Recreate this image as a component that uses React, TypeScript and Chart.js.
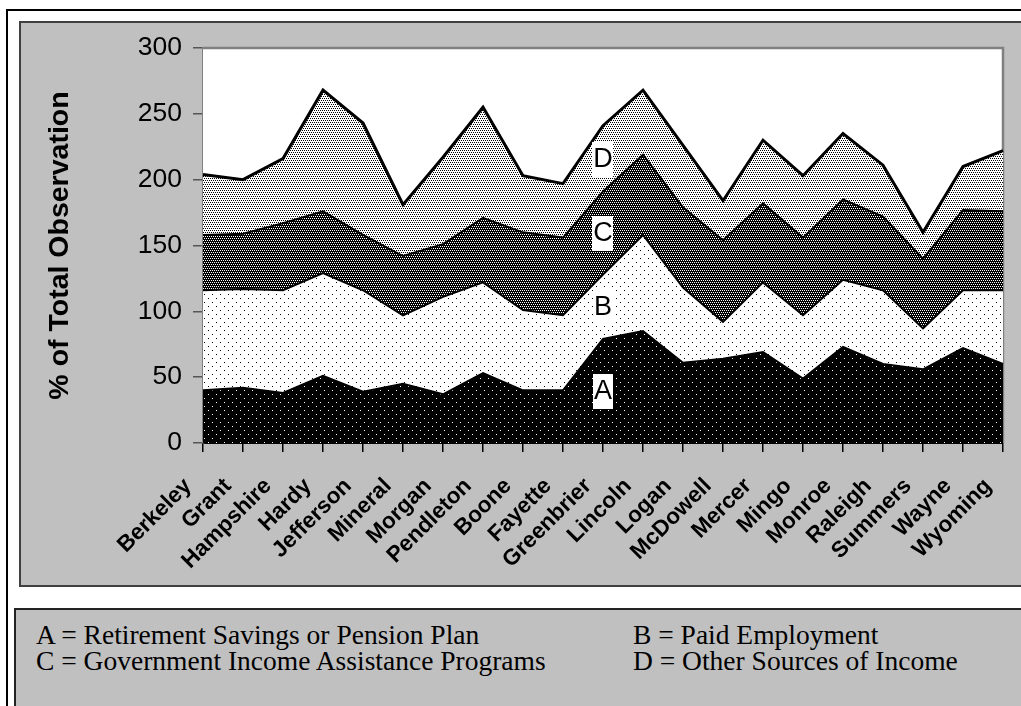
import React, { useEffect, useRef } from "react";
import { Chart, registerables } from "chart.js";

Chart.register(...registerables);

// West Virginia counties along the category axis
const counties = [
  "Berkeley", "Grant", "Hampshire", "Hardy", "Jefferson", "Mineral", "Morgan",
  "Pendleton", "Boone", "Fayette", "Greenbrier", "Lincoln", "Logan", "McDowell",
  "Mercer", "Mingo", "Monroe", "Raleigh", "Summers", "Wayne", "Wyoming",
];

// Stacked shares (% of total observation) per income source
const retirement = [40, 42, 38, 51, 39, 45, 37, 53, 40, 40, 79, 85, 61, 64, 69, 49, 73, 60, 56, 72, 60];
const employment = [76, 75, 78, 78, 77, 52, 74, 69, 61, 57, 49, 73, 57, 28, 53, 48, 51, 56, 31, 44, 56];
const assistance = [42, 42, 51, 47, 42, 45, 40, 49, 59, 59, 63, 61, 61, 62, 60, 59, 61, 56, 53, 61, 60];
const otherIncome = [46, 41, 49, 92, 85, 39, 66, 84, 43, 41, 50, 49, 47, 30, 48, 47, 50, 39, 20, 33, 46];

const yTickValues = [0, 50, 100, 150, 200, 250, 300];
const bandLetters = ["A", "B", "C", "D"];
const letterCounty = "Greenbrier";
const yTitle = "% of Total Observation";

const legendRows = [
  ["A = Retirement Savings or Pension Plan", "B = Paid Employment"],
  ["C = Government Income Assistance Programs", "D = Other Sources of Income"],
];

const SANS = "'Liberation Sans', Arial, sans-serif";
const SERIF = "'Liberation Serif', 'Times New Roman', serif";

function makePattern(
  ctx: CanvasRenderingContext2D,
  bg: string,
  fg: string,
  size: number,
  dots: [number, number][]
): CanvasPattern {
  const c = document.createElement("canvas");
  c.width = size;
  c.height = size;
  const g = c.getContext("2d")!;
  g.fillStyle = bg;
  g.fillRect(0, 0, size, size);
  g.fillStyle = fg;
  dots.forEach(([x, y]) => g.fillRect(x, y, 1, 1));
  return ctx.createPattern(c, "repeat")!;
}

export default function App() {
  const canvasRef = useRef<HTMLCanvasElement>(null);

  useEffect(() => {
    const canvas = canvasRef.current!;
    const ctx = canvas.getContext("2d")!;

    const sparse: [number, number][] = [[0, 0], [4, 4]];
    const fine: [number, number][] = [[0, 0], [2, 0], [1, 2], [3, 2]];
    const fills = [
      makePattern(ctx, "#000", "#fff", 8, sparse),
      makePattern(ctx, "#fff", "#000", 8, sparse),
      makePattern(ctx, "#000", "#fff", 4, fine),
      makePattern(ctx, "#fff", "#000", 4, fine),
    ];
    const series = [retirement, employment, assistance, otherIncome];

    const plotFrame = {
      id: "plotFrame",
      beforeDatasetsDraw(chart: any) {
        const { ctx: c, chartArea: a } = chart;
        c.save();
        c.fillStyle = "#fff";
        c.fillRect(a.left, a.top, a.right - a.left, a.bottom - a.top);
        c.strokeStyle = "#808080";
        c.lineWidth = 2.5;
        c.beginPath();
        c.moveTo(a.left, a.top);
        c.lineTo(a.right, a.top);
        c.lineTo(a.right, a.bottom);
        c.stroke();
        c.restore();
      },
      afterDraw(chart: any) {
        const { ctx: c, chartArea: a } = chart;
        c.save();
        c.translate(40, (a.top + a.bottom) / 2);
        c.rotate(-Math.PI / 2);
        c.font = `bold 28.5px ${SANS}`;
        c.fillStyle = "#000";
        c.textAlign = "center";
        c.textBaseline = "middle";
        c.fillText(yTitle, 0, 0);
        c.restore();
      },
    };

    const bandLabels = {
      id: "bandLabels",
      afterDatasetsDraw(chart: any) {
        const c = chart.ctx;
        const xs = chart.scales.x;
        const ys = chart.scales.y;
        const idx = counties.indexOf(letterCounty);
        const x = xs.getPixelForValue(idx);
        let base = 0;
        c.save();
        c.font = `27px ${SANS}`;
        c.textAlign = "center";
        c.textBaseline = "middle";
        series.forEach((s, i) => {
          const mid = base + s[idx] / 2;
          base += s[idx];
          const y = ys.getPixelForValue(mid);
          const w = c.measureText(bandLetters[i]).width + 2;
          c.fillStyle = "#fff";
          c.fillRect(Math.round(x - w / 2), Math.round(y - 17), Math.round(w), 35);
          c.fillStyle = "#000";
          c.fillText(bandLetters[i], x, y + 1);
        });
        c.restore();
      },
    };

    const chart = new Chart(ctx, {
      type: "line",
      data: {
        labels: counties,
        datasets: series.map((s, i) => ({
          label: bandLetters[i],
          data: s,
          fill: i === 0 ? "origin" : "-1",
          backgroundColor: fills[i],
          borderColor: "#000",
          borderWidth: i === 3 ? 3 : 2,
          pointRadius: 0,
          tension: 0,
        })),
      },
      options: {
        responsive: false,
        animation: false,
        devicePixelRatio: 1,
        layout: { padding: { left: 0, right: 18, top: 26, bottom: 0 } },
        plugins: {
          legend: { display: false },
          tooltip: { enabled: false },
        },
        scales: {
          x: {
            grid: {
              display: true,
              drawOnChartArea: false,
              drawTicks: true,
              tickLength: 9,
              color: "#000",
              lineWidth: 1.5,
            },
            border: { display: true, color: "#000", width: 2 },
            ticks: {
              autoSkip: false,
              maxRotation: 45,
              minRotation: 45,
              padding: 21,
              labelOffset: -15,
              color: "#000",
              font: { family: SANS, size: 22.5, weight: "bold" },
            },
            afterFit(scale: any) {
              scale.height = 143;
              scale.paddingLeft = 0;
              scale.paddingRight = 0;
            },
          },
          y: {
            stacked: true,
            min: 0,
            max: 300,
            grid: {
              display: true,
              drawOnChartArea: false,
              drawTicks: true,
              tickLength: 10,
              color: "#555",
              lineWidth: 1.5,
            },
            border: { display: true, color: "#808080", width: 2.5 },
            ticks: {
              padding: 11,
              color: "#000",
              font: { family: SANS, size: 26.5 },
            },
            afterBuildTicks(scale: any) {
              scale.ticks = yTickValues.map((v) => ({ value: v }));
            },
            afterFit(scale: any) {
              scale.width = 183;
              scale.paddingTop = 0;
              scale.paddingBottom = 0;
            },
          },
        },
      },
      plugins: [plotFrame, bandLabels],
    } as any);

    return () => chart.destroy();
  }, []);

  return (
    <div
      style={{
        position: "absolute",
        left: 0,
        top: 0,
        width: 1021,
        height: 706,
        overflow: "hidden",
        background: "#fff",
      }}
    >
      <div
        style={{
          position: "absolute",
          left: 6,
          top: 9,
          width: 1100,
          height: 800,
          border: "2px solid #000",
          boxSizing: "border-box",
        }}
      />
      <div
        style={{
          position: "absolute",
          left: 19,
          top: 21,
          width: 1100,
          height: 566,
          background: "#c0c0c0",
          border: "2px solid #404040",
          boxSizing: "border-box",
        }}
      />
      <canvas
        ref={canvasRef}
        width={1001}
        height={564}
        style={{ position: "absolute", left: 20, top: 22, width: 1001, height: 564 }}
      />
      <div
        style={{
          position: "absolute",
          left: 14,
          top: 608,
          width: 1100,
          height: 200,
          background: "#c0c0c0",
          border: "2px solid #222",
          boxSizing: "border-box",
        }}
      />
      {legendRows.map((row, r) =>
        row.map((text, col) => (
          <div
            key={`${r}-${col}`}
            style={{
              position: "absolute",
              left: col === 0 ? 36 : 633,
              top: 621 + r * 26,
              fontFamily: SERIF,
              fontSize: 27.5,
              lineHeight: "27px",
              color: "#000",
              whiteSpace: "nowrap",
            }}
          >
            {text}
          </div>
        ))
      )}
    </div>
  );
}
